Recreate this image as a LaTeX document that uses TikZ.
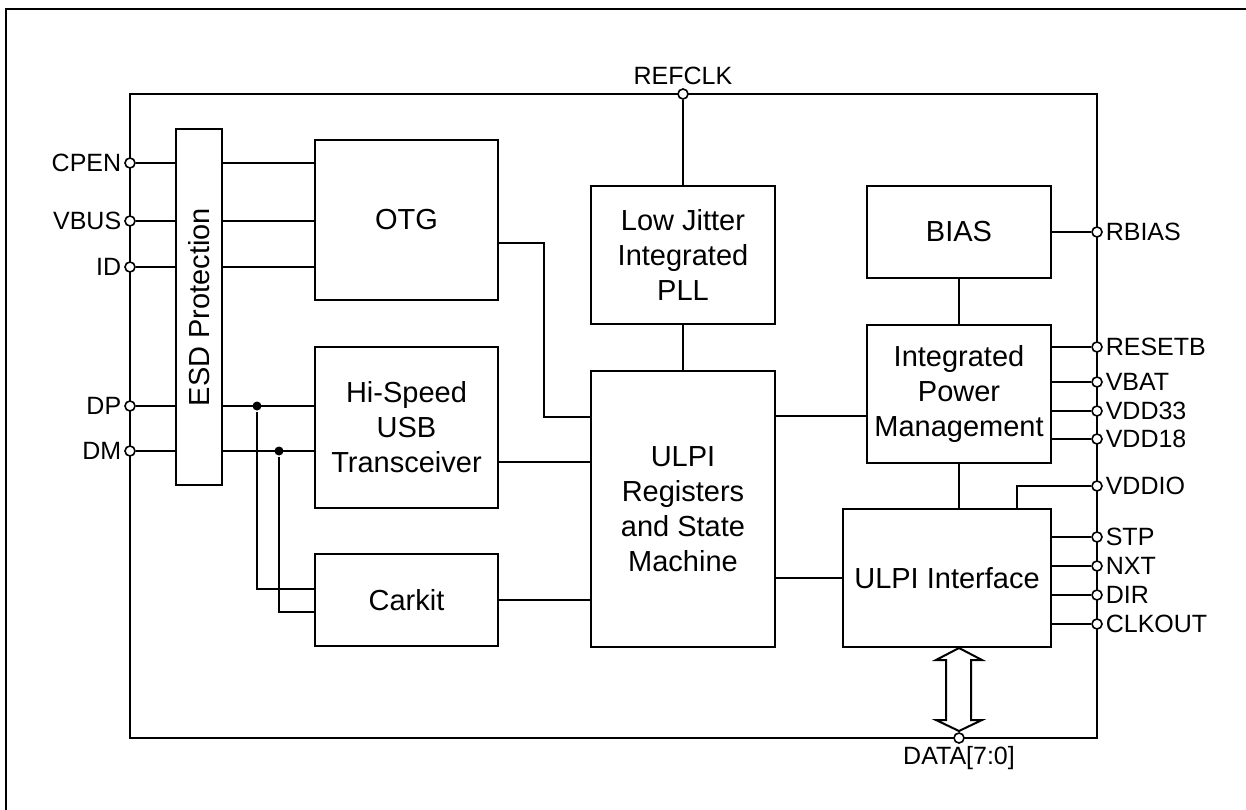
\documentclass[tikz,border=0pt]{standalone}
\usepackage{fontspec}
\setmainfont{Liberation Sans}
\begin{document}
\begin{tikzpicture}[x=1pt,y=-1pt,line width=2pt]
\tikzstyle{block}=[draw, align=center, inner sep=0pt, font=\fontsize{29}{35}\selectfont]
\tikzstyle{pin}=[circle, draw, fill=white, minimum size=10pt, inner sep=0pt, line width=1.6pt, label distance=0pt]
\tikzstyle{dot}=[circle, fill, minimum size=9pt, inner sep=0pt]
\tikzstyle{every label}=[font=\fontsize{25}{30}\selectfont, inner sep=2pt]

\useasboundingbox (0,0) rectangle (1246,810);
\draw (6,810) -- (6,9) -- (1246,9);

% chip outline
\draw (130,94) rectangle (1097,738);

% blocks
\node[block, minimum width=46pt, minimum height=356pt] (esd) at (199,307) {\rotatebox{90}{ESD Protection}};
\node[block, minimum width=183pt, minimum height=160pt] (otg) at (406.5,220) {OTG};
\node[block, minimum width=183pt, minimum height=161pt] (hs) at (406.5,427.5) {Hi-Speed\\USB\\Transceiver};
\node[block, minimum width=183pt, minimum height=92pt] (carkit) at (406.5,600) {Carkit};
\node[block, minimum width=184pt, minimum height=138pt] (pll) at (683,255) {Low Jitter\\Integrated\\PLL};
\node[block, minimum width=184pt, minimum height=276pt] (regs) at (683,509) {ULPI\\Registers\\and State\\Machine};
\node[block, minimum width=184pt, minimum height=92pt] (bias) at (959,232) {BIAS};
\node[block, minimum width=184pt, minimum height=138pt] (ipm) at (959,394) {Integrated\\Power\\Management};
\node[block, minimum width=208pt, minimum height=138pt] (uif) at (947,578) {ULPI Interface};

% pins
\foreach \name/\y in {CPEN/163, VBUS/221, ID/267, DP/406, DM/451} {
\node[pin, label=left:\name] (\name) at (130,\y) {};
}
\foreach \name/\y in {RBIAS/232, RESETB/347, VBAT/382, VDD33/411, VDD18/439, VDDIO/486, STP/537, NXT/566, DIR/595, CLKOUT/624} {
\node[pin, label=right:\name] (\name) at (1097,\y) {};
}
\node[pin, label=above:REFCLK] (REFCLK) at (683,94) {};
\node[pin, label=below:{DATA[7:0]}] (DATA) at (959,738) {};

% left side
\foreach \p in {CPEN,VBUS,ID} {
\draw (\p) -- (\p -| esd.west);
\draw (\p -| esd.east) -- (\p -| otg.west);
}
\foreach \p in {DP,DM} {
\draw (\p) -- (\p -| esd.west);
\draw (\p -| esd.east) -- (\p -| hs.west);
}
\node[dot] (dpj) at (DP -| 257,0) {};
\node[dot] (dmj) at (DM -| 279,0) {};
\draw (dpj) |- ([yshift=11pt]carkit.west);
\draw (dmj) |- ([yshift=-12pt]carkit.west);

% into the registers
\draw (otg.east |- 0,243) -| (544,417) -- (regs.west |- 0,417);
\draw (hs.east |- 0,462) -- (regs.west |- 0,462);
\draw (carkit.east) -- (carkit.east -| regs.west);
\draw (REFCLK) -- (pll);
\draw (pll) -- (regs);
\draw (regs.east |- 0,416) -- (ipm.west |- 0,416);
\draw (regs.east |- uif) -- (uif.west);

% right side
\draw (bias) -- (ipm);
\draw (ipm.south) -- (ipm.south |- uif.north);
\draw (bias.east) -- (RBIAS);
\foreach \p in {RESETB,VBAT,VDD33,VDD18} {
\draw (\p -| ipm.east) -- (\p);
}
\draw (VDDIO) -| (uif.north -| 1017,0);
\foreach \p in {STP,NXT,DIR,CLKOUT} {
\draw (\p -| uif.east) -- (\p);
}

% data bus
\draw[fill=white] (959,648) -- (982,660) -- (971,660) -- (971,720) -- (982,720) -- (959,731)
  -- (936,720) -- (946,720) -- (946,660) -- (936,660) -- cycle;

\end{tikzpicture}
\end{document}
